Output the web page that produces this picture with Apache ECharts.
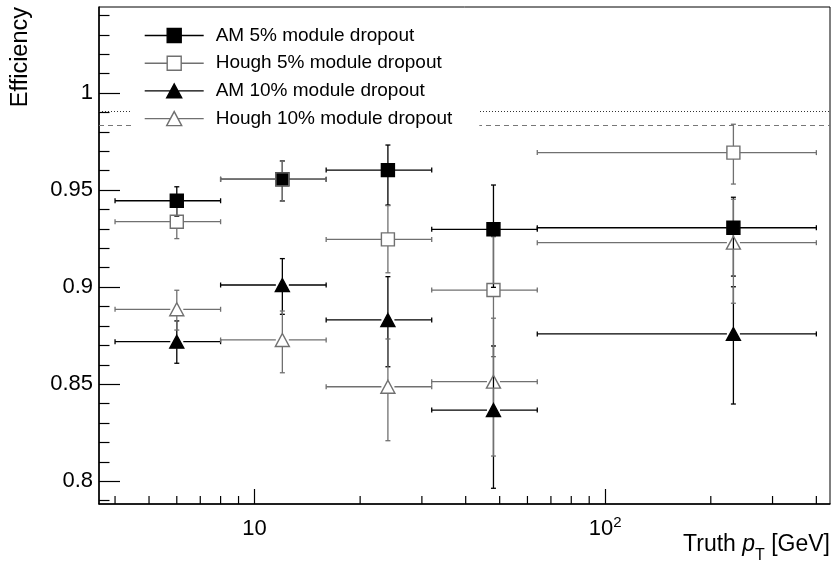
<!DOCTYPE html>
<html>
<head>
<meta charset="utf-8">
<script src="https://cdn.jsdelivr.net/npm/echarts@6/dist/echarts.min.js"></script>
<style>
  html, body { margin: 0; padding: 0; background: #fff; }
  #main { width: 835px; height: 567px; }
</style>
</head>
<body>
<div id="main"></div>
<script>
// truth pT bins [GeV], points sit at the arithmetic bin centre
const binLow = [4, 8, 16, 32, 64];
const binHigh = [8, 16, 32, 64, 400];
const binCenter = [6, 12, 24, 48, 232];

// efficiencies with asymmetric errors
const am5 = [0.9445, 0.9556, 0.9603, 0.9298, 0.9306];
const am5Up = [0.0072, 0.0094, 0.0129, 0.0228, 0.0157];
const am5Down = [0.0079, 0.0112, 0.0180, 0.0299, 0.0249];

const hough5 = [0.9337, 0.9555, 0.9246, 0.8985, 0.9693];
const hough5Up = [0.0083, 0.0094, 0.0174, 0.0275, 0.0146];
const hough5Down = [0.0087, 0.0112, 0.0172, 0.0343, 0.0162];

const am10 = [0.8719, 0.9011, 0.8831, 0.8367, 0.8759];
const am10Up = [0.0107, 0.0136, 0.0223, 0.0330, 0.0243];
const am10Down = [0.0111, 0.0151, 0.0241, 0.0403, 0.0361];

const hough10 = [0.8886, 0.8728, 0.8487, 0.8513, 0.9229];
const hough10Up = [0.0098, 0.0149, 0.0246, 0.0327, 0.0224];
const hough10Down = [0.0107, 0.0169, 0.0278, 0.0383, 0.0312];

// horizontal reference levels (dotted, dashed)
const refDotted = 0.9907;
const refDashed = 0.9835;

// axis ranges and ticks
const xMin = 3.6, xMax = 437.5;
const yMin = 0.7883, yMax = 1.0443;
const yMajor = [0.8, 0.85, 0.9, 0.95, 1];
const yMinor = [0.79, 0.81, 0.82, 0.83, 0.84, 0.86, 0.87, 0.88, 0.89, 0.91, 0.92, 0.93, 0.94,
  0.96, 0.97, 0.98, 0.99, 1.01, 1.02, 1.03, 1.04];
const xMinor = [4, 5, 6, 7, 8, 9, 20, 30, 40, 50, 60, 70, 80, 90, 200, 300, 400];

const FONT = 'Liberation Sans, Arial, Helvetica, sans-serif';
const GREY = '#707070';
const MARK = 13;   // marker size in px

function errData(vals, up, down) {
  return vals.map((v, i) => [binCenter[i], v, binLow[i], binHigh[i], v - down[i], v + up[i]]);
}

function errSeries(name, vals, up, down, color) {
  return {
    type: 'custom',
    name: name,
    silent: true,
    data: errData(vals, up, down),
    renderItem: function (params, api) {
      const c = api.coord([api.value(0), api.value(1)]);
      const pl = api.coord([api.value(2), api.value(1)]);
      const ph = api.coord([api.value(3), api.value(1)]);
      const pb = api.coord([api.value(0), api.value(4)]);
      const pt = api.coord([api.value(0), api.value(5)]);
      const g = MARK / 2, cap = 2.5;
      const segs = [
        [pl[0], c[1], c[0] - g, c[1]],
        [c[0] + g, c[1], ph[0], c[1]],
        [c[0], pt[1], c[0], c[1] - g],
        [c[0], c[1] + g, c[0], pb[1]],
        [pl[0], c[1] - cap, pl[0], c[1] + cap],
        [ph[0], c[1] - cap, ph[0], c[1] + cap],
        [c[0] - cap, pt[1], c[0] + cap, pt[1]],
        [c[0] - cap, pb[1], c[0] + cap, pb[1]]
      ];
      return {
        type: 'group',
        children: segs.map(s => ({
          type: 'line',
          shape: { x1: s[0], y1: s[1], x2: s[2], y2: s[3] },
          style: { stroke: color, lineWidth: 1.3 }
        }))
      };
    }
  };
}

function markSeries(name, vals, symbol, size, fill, stroke) {
  return {
    type: 'scatter',
    name: name,
    symbol: symbol,
    symbolSize: size,
    data: vals.map((v, i) => [binCenter[i], v]),
    itemStyle: { color: fill, borderColor: stroke, borderWidth: 1.4, opacity: 1 },
    emphasis: { disabled: true }
  };
}

const iconSquare = 'path://M0,7H22.5M36.5,7H59M22.5,0H36.5V14H22.5Z';
const iconTriangle = 'path://M0,7H25.75M33.25,7H59M22,14H37L29.5,0Z';

const names = ['AM 5% module dropout', 'Hough 5% module dropout', 'AM 10% module dropout', 'Hough 10% module dropout'];

const am5Marks = markSeries(names[0], am5, 'rect', MARK, '#000', '#000');
am5Marks.markLine = {
  silent: true,
  z: 1,
  precision: 4,
  symbol: 'none',
  label: { show: false },
  data: [
    { yAxis: refDotted, lineStyle: { type: [1, 2], color: '#333', width: 1 } },
    { yAxis: refDashed, lineStyle: { type: [5, 4], color: '#777', width: 1 } }
  ]
};

const myChart = echarts.init(document.getElementById('main'));
myChart.setOption({
  animation: false,
  backgroundColor: '#fff',
  textStyle: { fontFamily: FONT },
  grid: {
    left: 99, right: 5, top: 7, bottom: 63,
    show: true, borderColor: '#000', borderWidth: 1,
    outerBoundsMode: 'none'
  },
  legend: {
    orient: 'vertical',
    left: 131,
    top: 14,
    z: 10,
    padding: [12, 27, 10, 13],
    backgroundColor: '#fff',
    itemWidth: 59,
    itemHeight: 14,
    itemGap: 8.7,
    selectedMode: false,
    textStyle: { fontSize: 19, lineHeight: 19, color: '#000', fontFamily: FONT, padding: [0, 0, 0, 7] },
    data: [
      { name: names[0], icon: iconSquare, itemStyle: { color: '#000', borderColor: '#000', borderWidth: 1.4 } },
      { name: names[1], icon: iconSquare, itemStyle: { color: 'rgba(0,0,0,0)', borderColor: GREY, borderWidth: 1.4 } },
      { name: names[2], icon: iconTriangle, itemStyle: { color: '#000', borderColor: '#000', borderWidth: 1.4 } },
      { name: names[3], icon: iconTriangle, itemStyle: { color: 'rgba(0,0,0,0)', borderColor: GREY, borderWidth: 1.4 } }
    ]
  },
  xAxis: {
    type: 'log',
    logBase: 10,
    min: xMin,
    max: xMax,
    axisLine: { onZero: false, lineStyle: { color: '#000', width: 1.5 } },
    axisTick: { inside: true, length: 15, lineStyle: { color: '#000', width: 1.2 } },
    axisLabel: {
      color: '#000',
      margin: 11,
      showMinLabel: false,
      showMaxLabel: false,
      formatter: function (v) {
        if (Math.abs(v - 10) < 1e-6) return '{b|10}';
        if (Math.abs(v - 100) < 1e-6) return '{b|10}{sup|2}';
        return '';
      },
      rich: {
        b: { fontSize: 22, lineHeight: 25, verticalAlign: 'bottom', fontFamily: FONT, color: '#000' },
        sup: { fontSize: 15, verticalAlign: 'bottom', padding: [0, 0, 10, 0], fontFamily: FONT, color: '#000' }
      }
    },
    splitLine: { show: false }
  },
  yAxis: [
    {
      type: 'value',
      position: 'left',
      min: yMin,
      max: yMax,
      axisLine: { show: true, lineStyle: { color: '#000', width: 1.5 } },
      axisTick: { show: true, inside: true, length: 21, customValues: yMajor, lineStyle: { color: '#000', width: 1.2 } },
      axisLabel: {
        customValues: yMajor,
        fontSize: 22,
        margin: 6,
        color: '#000',
        fontFamily: FONT,
        formatter: v => String(+v.toFixed(2))
      },
      splitLine: { show: false }
    },
    {
      type: 'value',
      position: 'left',
      min: yMin,
      max: yMax,
      axisLine: { show: false },
      axisLabel: { show: false },
      axisTick: { show: true, inside: true, length: 10.5, customValues: yMinor, lineStyle: { color: '#000', width: 1.2 } },
      splitLine: { show: false }
    }
  ],
  graphic: [
    {
      type: 'text',
      x: 21,
      y: 7,
      rotation: Math.PI / 2,
      style: { text: 'Efficiency', align: 'right', verticalAlign: 'middle', fontSize: 23.5, fontFamily: FONT, fill: '#000' }
    },
    {
      type: 'text',
      right: 5,
      top: 533,
      style: {
        text: '{n|Truth }{i|p}{s|T}{n| [GeV]}',
        fill: '#000',
        rich: {
          n: { fontSize: 23, fontFamily: FONT, verticalAlign: 'bottom', padding: [0, 0, 8, 0] },
          i: { fontSize: 23, fontFamily: FONT, fontStyle: 'italic', verticalAlign: 'bottom', padding: [0, 0, 8, 0] },
          s: { fontSize: 16, fontFamily: FONT, verticalAlign: 'bottom' }
        }
      }
    }
  ],
  series: [
    {
      // minor ticks of the log x axis
      type: 'custom',
      name: 'xminor',
      silent: true,
      data: xMinor.map(v => [v, yMin]),
      renderItem: function (params, api) {
        const p = api.coord([api.value(0), api.value(1)]);
        return {
          type: 'line',
          shape: { x1: p[0], y1: p[1], x2: p[0], y2: p[1] - 8 },
          style: { stroke: '#000', lineWidth: 1.2 }
        };
      }
    },
    errSeries('err0', am5, am5Up, am5Down, '#000'),
    am5Marks,
    errSeries('err1', hough5, hough5Up, hough5Down, GREY),
    markSeries(names[1], hough5, 'rect', MARK, 'rgba(0,0,0,0)', GREY),
    errSeries('err2', am10, am10Up, am10Down, '#000'),
    markSeries(names[2], am10, 'triangle', [14, 13], '#000', '#000'),
    errSeries('err3', hough10, hough10Up, hough10Down, GREY),
    markSeries(names[3], hough10, 'triangle', [14, 13], 'rgba(0,0,0,0)', GREY)
  ]
});

window.onresize = function () {
  myChart.resize();
};
</script>
</body>
</html>
